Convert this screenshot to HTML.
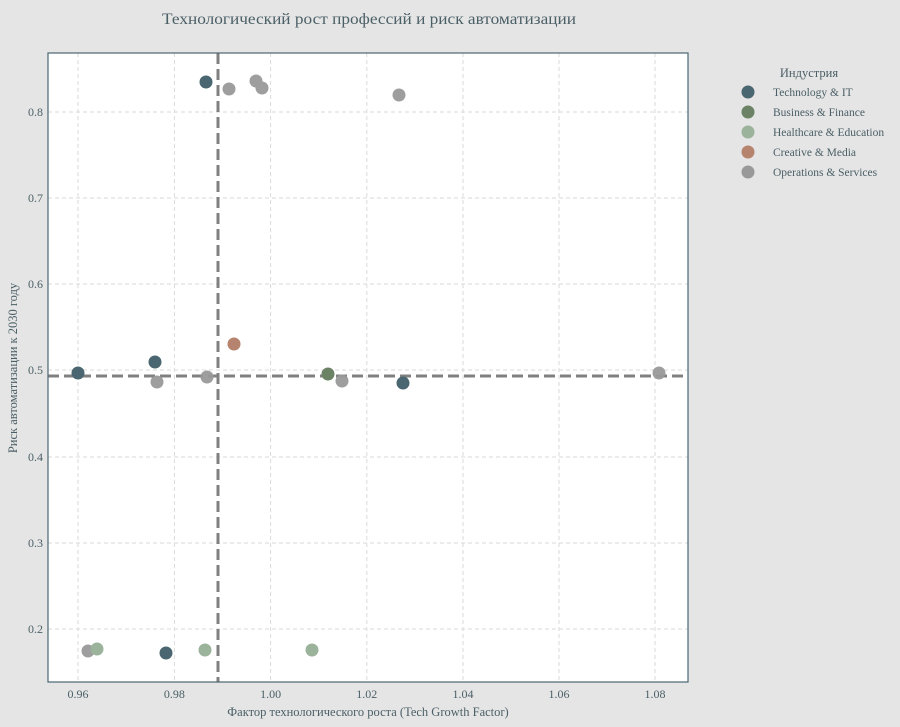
<!DOCTYPE html>
<html><head><meta charset="utf-8"><style>
html,body{margin:0;padding:0;background:#e5e5e5;width:900px;height:727px;overflow:hidden;}
svg{display:block;}
svg text{font-family:"Liberation Serif","DejaVu Serif",serif;fill:#4a5f66;}
</style></head><body>
<svg width="900" height="727" xmlns="http://www.w3.org/2000/svg">
<rect width="900" height="727" fill="#e5e5e5"/>
<text x="369" y="24" text-anchor="middle" font-size="16" textLength="414" lengthAdjust="spacingAndGlyphs">Технологический рост профессий и риск автоматизации</text>
<rect x="48" y="53" width="640" height="629" fill="#fff"/>
<g stroke="#dadada" stroke-dasharray="4,3" stroke-width="1">
<line x1="78" y1="53" x2="78" y2="682"/><line x1="174.4" y1="53" x2="174.4" y2="682"/><line x1="270.6" y1="53" x2="270.6" y2="682"/><line x1="366.8" y1="53" x2="366.8" y2="682"/><line x1="463" y1="53" x2="463" y2="682"/><line x1="559" y1="53" x2="559" y2="682"/><line x1="655" y1="53" x2="655" y2="682"/>
<line x1="48" y1="629" x2="688" y2="629"/><line x1="48" y1="543" x2="688" y2="543"/><line x1="48" y1="457" x2="688" y2="457"/><line x1="48" y1="370" x2="688" y2="370"/><line x1="48" y1="284" x2="688" y2="284"/><line x1="48" y1="198" x2="688" y2="198"/><line x1="48" y1="112" x2="688" y2="112"/>
</g>
<g stroke="#808080" stroke-width="3" stroke-dasharray="11,5">
<line x1="218" y1="53" x2="218" y2="682"/><line x1="48" y1="376" x2="688" y2="376"/>
</g>
<g fill="#999999" opacity="0.95">
<circle cx="229" cy="89" r="6.5"/><circle cx="256" cy="81" r="6.5"/><circle cx="262" cy="88" r="6.5"/><circle cx="399" cy="95" r="6.5"/><circle cx="157" cy="382" r="6.5"/><circle cx="207" cy="377" r="6.5"/><circle cx="342" cy="381" r="6.5"/><circle cx="659" cy="373" r="6.5"/><circle cx="88" cy="651" r="6.5"/>
</g>
<g fill="#4a6670"><circle cx="206" cy="82" r="6.5"/><circle cx="78" cy="373" r="6.5"/><circle cx="155" cy="362" r="6.5"/><circle cx="403" cy="383" r="6.5"/><circle cx="166" cy="653" r="6.5"/></g>
<circle cx="328" cy="374" r="6.5" fill="#6b8265"/>
<g fill="#9bb39b"><circle cx="97" cy="649" r="6.5"/><circle cx="205" cy="650" r="6.5"/><circle cx="312" cy="650" r="6.5"/></g>
<circle cx="234" cy="344" r="6.5" fill="#b5836e"/>
<rect x="48" y="53" width="640" height="629" fill="none" stroke="#4a6670" stroke-width="1.2"/>
<g font-size="12" text-anchor="middle">
<text x="78" y="698">0.96</text><text x="174.4" y="698">0.98</text><text x="270.6" y="698">1.00</text><text x="366.8" y="698">1.02</text><text x="463" y="698">1.04</text><text x="559" y="698">1.06</text><text x="655" y="698">1.08</text>
</g>
<g font-size="12" text-anchor="end">
<text x="43" y="633">0.2</text><text x="43" y="547">0.3</text><text x="43" y="461">0.4</text><text x="43" y="374">0.5</text><text x="43" y="288">0.6</text><text x="43" y="202">0.7</text><text x="43" y="116">0.8</text>
</g>
<text x="368" y="716" font-size="12.5" text-anchor="middle">Фактор технологического роста (Tech Growth Factor)</text>
<text transform="translate(17,368) rotate(-90)" font-size="12.5" text-anchor="middle">Риск автоматизации к 2030 году</text>
<text x="809" y="77" font-size="12.5" text-anchor="middle">Индустрия</text>
<g font-size="11.5">
<circle cx="748" cy="92" r="6.5" fill="#4a6670"/><text x="773" y="96">Technology &amp; IT</text>
<circle cx="748" cy="112" r="6.5" fill="#6b8265"/><text x="773" y="116">Business &amp; Finance</text>
<circle cx="748" cy="132" r="6.5" fill="#9bb39b"/><text x="773" y="136">Healthcare &amp; Education</text>
<circle cx="748" cy="152" r="6.5" fill="#b5836e"/><text x="773" y="156">Creative &amp; Media</text>
<circle cx="748" cy="172" r="6.5" fill="#999999"/><text x="773" y="176">Operations &amp; Services</text>
</g>
</svg>
</body></html>
